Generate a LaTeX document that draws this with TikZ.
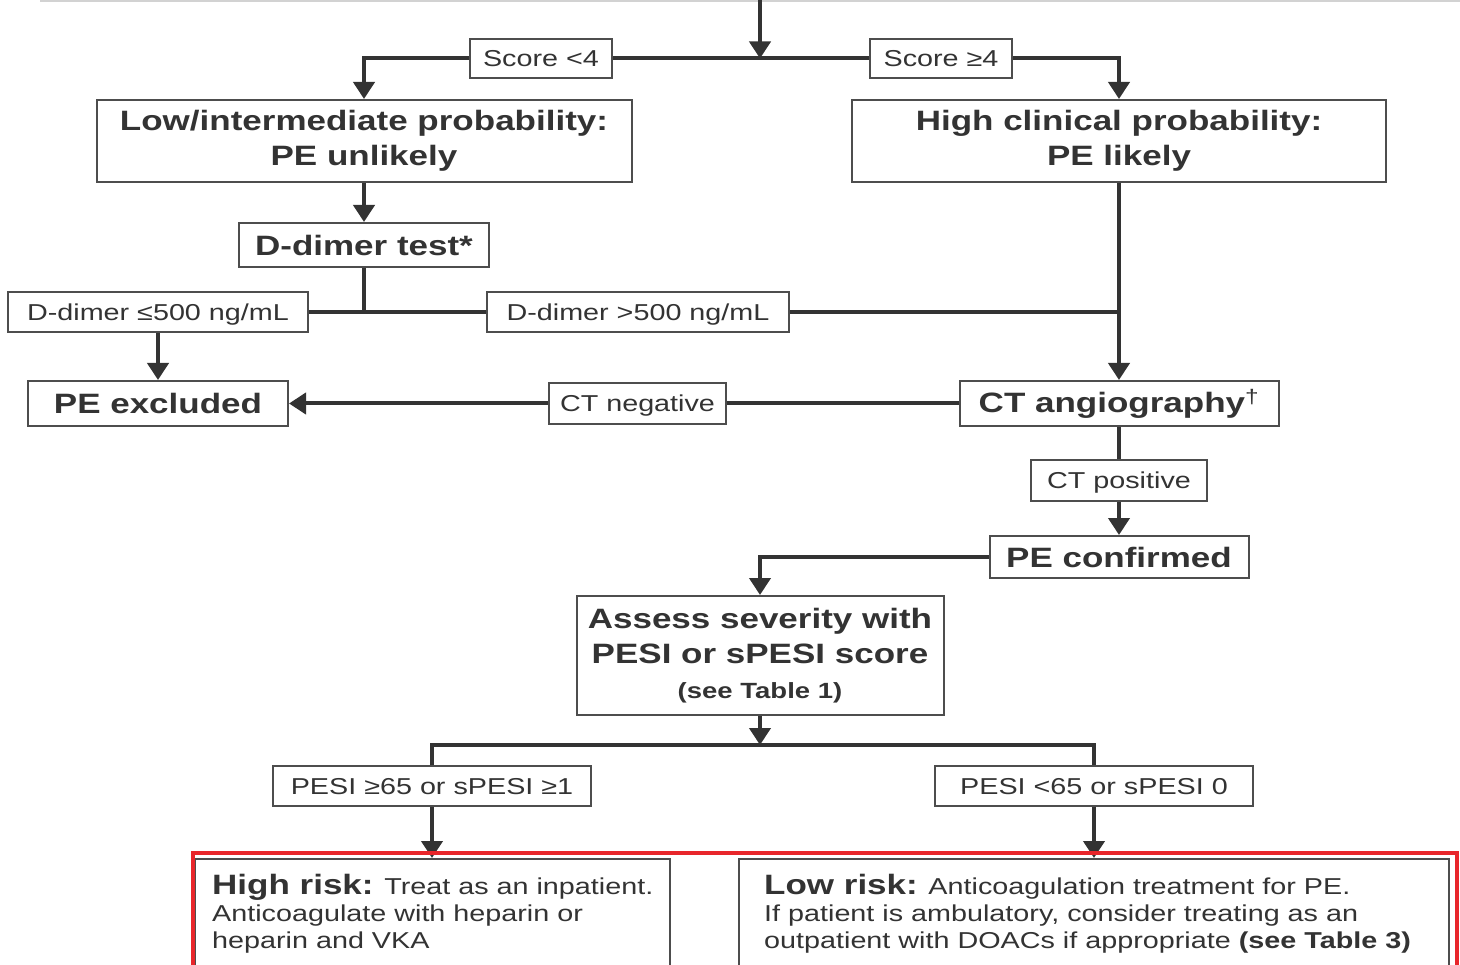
\documentclass[tikz,border=0pt]{standalone}
\usepackage{fontspec}
\setmainfont{Liberation Sans}[FakeStretch=1.25]
\usetikzlibrary{arrows.meta}
\definecolor{ink}{HTML}{333333}
\definecolor{edge}{HTML}{4D4D4D}
\definecolor{redbox}{HTML}{E8262B}
\begin{document}
\begin{tikzpicture}[x=1pt,y=-1pt,
  box/.style={draw=edge,line width=2pt,inner sep=0pt,text=ink,align=center,fill=white},
  title/.style={box,font=\fontsize{28}{35}\selectfont\bfseries},
  lab/.style={box,font=\fontsize{23}{27}\selectfont,text height=16.5pt,text depth=0pt},
  txt/.style={inner sep=0pt,text=ink,align=left,font=\fontsize{23}{27}\selectfont},
  conn/.style={draw=ink,line width=4pt},
  arr/.style={conn,-{Triangle[length=17pt,width=21pt]}},
]
\clip (0,0) rectangle (1460,965);
\fill[white] (0,0) rectangle (1460,965);
\draw[gray!35,line width=2pt] (40,1) -- (1460,1);

% nodes
\node[lab,minimum width=142pt,minimum height=39pt] (sl) at (541,58.5) {Score <4};
\node[lab,minimum width=142pt,minimum height=39pt] (sg) at (941,58.5) {Score ≥4};
\node[title,minimum width=535pt,minimum height=82pt] (low) at (364,141) {Low/intermediate probability:\\PE unlikely};
\node[title,minimum width=534pt,minimum height=82pt] (high) at (1119,141) {High clinical probability:\\PE likely};
\node[title,minimum width=250pt,minimum height=44pt] (dtest) at (364,245) {D-dimer test*};
\node[lab,minimum width=300pt,minimum height=40pt] (dle) at (158,312) {D-dimer ≤500 ng/mL};
\node[lab,minimum width=302pt,minimum height=40pt] (dgt) at (638,312) {D-dimer >500 ng/mL};
\node[title,minimum width=260pt,minimum height=45pt] (excl) at (158,403.5) {PE excluded};
\node[title,minimum width=319pt,minimum height=45pt] (ct) at (1119,403.5) {CT angiography\textsuperscript{\normalfont †}};
\node[lab,minimum width=177pt,minimum height=41pt] (ctneg) at (637.5,403.5) {CT negative};
\node[lab,minimum width=176pt,minimum height=41pt] (ctpos) at (1119,480.5) {CT positive};
\node[title,minimum width=259pt,minimum height=42pt] (conf) at (1119,557) {PE confirmed};
\node[title,minimum width=367pt,minimum height=119pt] (assess) at (760,655.5) {Assess severity with\\PESI or sPESI score\\{\fontsize{22}{31}\selectfont (see Table 1)}};
\node[lab,minimum width=318pt,minimum height=40pt] (pesiH) at (432,786) {PESI ≥65 or sPESI ≥1};
\node[lab,minimum width=318pt,minimum height=40pt] (pesiL) at (1094,786) {PESI <65 or sPESI 0};
\node[box,minimum width=475pt,minimum height=160pt,anchor=north] (hr) at (432,858) {};
\node[box,minimum width=710pt,minimum height=160pt,anchor=north] (lr) at (1094,858) {};
\node[txt,anchor=north west] (hrt) at (212,874) {{\fontsize{28}{27}\selectfont\bfseries High risk:} Treat as an inpatient.\\Anticoagulate with heparin or\\heparin and VKA};
\node[txt,anchor=north west] (lrt) at (764,874) {{\fontsize{28}{27}\selectfont\bfseries Low risk:} Anticoagulation treatment for PE.\\If patient is ambulatory, consider treating as an\\outpatient with DOACs if appropriate {\bfseries (see Table 3)}};

\coordinate (top) at (760,0);
\coordinate (j1) at (760,58.5);
\coordinate (j4) at (760,745);

% connectors
\draw[arr] (top) -- (j1);
\draw[conn] (sl.east) -- (sg.west);
\draw[arr] (sl.west) -| (low.north);
\draw[arr] (sg.east) -| (high.north);
\draw[arr] (low.south) -- (dtest.north);
\draw[conn] (dtest.south) -- (dtest.south |- dle.east);
\draw[conn] (dle.east) -- (dgt.west);
\draw[conn] (dgt.east) -- (dgt.east -| high.south);
\draw[arr] (high.south) -- (ct.north);
\draw[arr] (dle.south) -- (excl.north);
\draw[conn] (ct.west) -- (ctneg.east);
\draw[arr] (ctneg.west) -- (excl.east);
\draw[conn] (ct.south) -- (ctpos.north);
\draw[arr] (ctpos.south) -- (conf.north);
\draw[arr] (conf.west) -| (assess.north);
\draw[arr] (assess.south) -- (j4);
\draw[conn] (pesiH.north) |- (j4) -| (pesiL.north);
\draw[arr] (pesiH.south) -- (hr.north);
\draw[arr] (pesiL.south) -- (lr.north);

\draw[redbox,line width=4pt] (1457,1000) -- (1457,853) -- (193,853) -- (193,1000);
\end{tikzpicture}
\end{document}
